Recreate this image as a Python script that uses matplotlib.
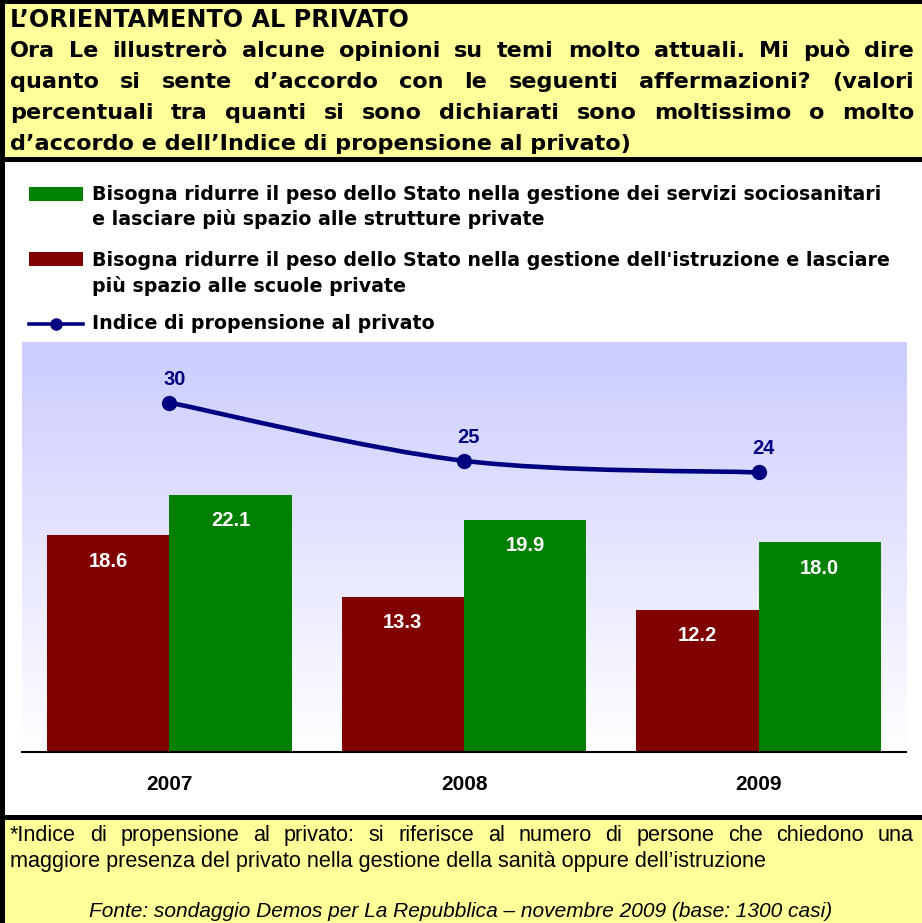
import numpy as np
import matplotlib
matplotlib.use("Agg")
import matplotlib.pyplot as plt
from matplotlib.patches import Rectangle, PathPatch
from matplotlib.lines import Line2D
from matplotlib.path import Path
from matplotlib.colors import LinearSegmentedColormap

# ---------------- data ----------------
years = ["2007", "2008", "2009"]
sanita = [22.1, 19.9, 18.0]        # green series
istruzione = [18.6, 13.3, 12.2]    # red series
indice = [30, 25, 24]              # line series

title_line = "L\u2019ORIENTAMENTO AL PRIVATO"
question_lines = [
    "Ora Le illustrerò alcune opinioni su temi molto attuali. Mi può dire",
    "quanto si sente d\u2019accordo con le seguenti affermazioni? (valori",
    "percentuali tra quanti si sono dichiarati sono moltissimo o molto",
    "d\u2019accordo e dell\u2019Indice di propensione al privato)",
]
legend_green = ["Bisogna ridurre il peso dello Stato nella gestione dei servizi sociosanitari",
                "e lasciare più spazio alle strutture private"]
legend_red = ["Bisogna ridurre il peso dello Stato nella gestione dell'istruzione e lasciare",
              "più spazio alle scuole private"]
legend_line = "Indice di propensione al privato"
note_lines = ["*Indice di propensione al privato: si riferisce al numero di persone che chiedono una",
              "maggiore presenza del privato nella gestione della sanità oppure dell\u2019istruzione"]
source = "Fonte: sondaggio Demos per La Repubblica \u2013 novembre 2009 (base: 1300 casi)"

GREEN = "#008000"
RED = "#800000"
NAVY = "#000080"
YELLOW = "#FFFF99"
WIDE = "DejaVu Sans"
ARIAL = "Liberation Sans"

W, H = 922, 923
plt.rcParams['font.family'] = [ARIAL, 'DejaVu Sans']
fig = plt.figure(figsize=(W / 100, H / 100), dpi=100, facecolor="black")
renderer = fig.canvas.get_renderer()


def fxy(px, py):
    return px / W, 1 - py / H


def rect(x0, y0, x1, y1, color, z=-5):
    fig.patches.append(Rectangle(fxy(x0, y1), (x1 - x0) / W, (y1 - y0) / H,
                                 transform=fig.transFigure, facecolor=color,
                                 edgecolor="none", zorder=z))


def measure(s, size, family, weight="normal", style="normal"):
    t = fig.text(0, 0, s, fontsize=size, family=family, fontweight=weight, style=style)
    w = t.get_window_extent(renderer).width
    t.remove()
    return w


def fit_size(s, size, width, family, weight="normal", style="normal"):
    for _ in range(2):
        size = size * width / measure(s, size, family, weight, style)
    return size


def line(x0, base, s, size, family=WIDE, weight="normal", style="normal",
         color="black", justify_to=None, ha="left"):
    kw = dict(fontsize=size, family=family, fontweight=weight, style=style,
              color=color, va="baseline")
    if justify_to is None:
        xf, yf = fxy(x0, base)
        fig.text(xf, yf, s, ha=ha, **kw)
        return
    words = s.split(" ")
    texts = [fig.text(0, 0, w, ha="left", **kw) for w in words]
    ww = [t.get_window_extent(renderer).width for t in texts]
    gap = (justify_to - x0 - sum(ww)) / (len(words) - 1)
    x = x0
    for t, wd in zip(texts, ww):
        t.set_position(fxy(x, base))
        x += wd + gap


rect(5, 4, W, 157, YELLOW)
rect(5, 162, W, 815, "white")
rect(5, 820, W, H, YELLOW)

# ---------------- header ----------------
ts = fit_size(title_line, 15, 400, WIDE, "bold")
line(10, 27, title_line, ts, weight="bold")
qs = fit_size(question_lines[3], 15, 622, WIDE, "bold")
for ln, b in zip(question_lines[:3], [57, 88, 119]):
    line(10, b, ln, qs, weight="bold", justify_to=914)
line(10, 150, question_lines[3], qs, weight="bold")

# ---------------- legend ----------------
ls = fit_size(legend_green[0], 13, 790, WIDE, "bold")
rect(29, 187, 83, 201, GREEN)
line(92, 200, legend_green[0], ls, weight="bold")
line(92, 225, legend_green[1], ls, weight="bold")
rect(29, 252, 83, 266, RED)
line(92, 266, legend_red[0], ls, weight="bold")
line(92, 292, legend_red[1], ls, weight="bold")
x0, y0 = fxy(29, 324)
x1, _ = fxy(83, 324)
fig.lines.append(Line2D([x0, x1], [y0, y0], transform=fig.transFigure, color=NAVY, lw=2.6))
xm, _ = fxy(56, 324)
fig.lines.append(Line2D([xm], [y0], transform=fig.transFigure, color=NAVY, marker="o",
                        markersize=8, lw=0))
line(92, 329, legend_line, ls, weight="bold")

# ---------------- chart ----------------
L, R, TOP, BOT = 22, 906, 342, 752
ax = fig.add_axes([L / W, 1 - BOT / H, (R - L) / W, (BOT - TOP) / H])
ymax = 35.2
cmap = LinearSegmentedColormap.from_list("g", ["#CCCCFF", "#FFFFFF"])
ax.imshow(np.linspace(0, 1, 256).reshape(-1, 1), cmap=cmap, extent=[-0.5, 2.5, 0, ymax],
          aspect="auto", origin="upper", zorder=0)
ax.set_xlim(-0.5, 2.5)
ax.set_ylim(0, ymax)
ax.set_facecolor("white")
for s in ["top", "right", "left"]:
    ax.spines[s].set_visible(False)
ax.spines["bottom"].set_linewidth(1.5)
ax.spines["bottom"].set_zorder(5)
ax.set_yticks([])
ax.set_xticks([])

x = np.arange(len(years))
bw = 0.415
b1 = ax.bar(x - bw / 2, istruzione, bw, color=RED, zorder=2)
b2 = ax.bar(x + bw / 2, sanita, bw, color=GREEN, zorder=2)
for bars, vals in [(b1, istruzione), (b2, sanita)]:
    for b, v in zip(bars, vals):
        ax.annotate(f"{v:.1f}", (b.get_x() + b.get_width() / 2, v), xytext=(0, -22.5),
                    textcoords="offset points", ha="center", va="baseline",
                    color="white", fontsize=14.5, fontweight="bold", zorder=4)

# smoothed line (Bezier through the data points)
pts = list(zip(x.astype(float), indice))
verts = [pts[0]]
codes = [Path.MOVETO]
n = len(pts)
for i in range(n - 1):
    p0 = np.array(pts[max(i - 1, 0)])
    p1 = np.array(pts[i])
    p2 = np.array(pts[i + 1])
    p3 = np.array(pts[min(i + 2, n - 1)])
    c1 = p1 + (p2 - p0) / 6
    c2 = p2 - (p3 - p1) / 6
    verts += [tuple(c1), tuple(c2), tuple(p2)]
    codes += [Path.CURVE4] * 3
ax.add_patch(PathPatch(Path(verts, codes), facecolor="none", edgecolor=NAVY, lw=3.3,
                       zorder=3, capstyle="round", joinstyle="round"))
ax.plot(x, indice, linestyle="none", marker="o", markersize=10, color=NAVY, zorder=4)
for xi, v in zip(x, indice):
    ax.annotate(f"{v}", (xi, v), xytext=(3.5, 13), textcoords="offset points",
                ha="center", va="baseline", color=NAVY, fontsize=14.5, fontweight="bold")

for xi, yr in zip(x, years):
    ax.annotate(yr, (xi, 0), xytext=(0, -27.5),
                textcoords="offset points", ha="center", va="baseline",
                fontsize=15, fontweight="bold", color="black", annotation_clip=False)

# ---------------- footer ----------------
fs = fit_size(note_lines[1], 15, 758, ARIAL)
line(10, 841, note_lines[0], fs, family=ARIAL, justify_to=914)
line(10, 867, note_lines[1], fs, family=ARIAL)
ss = fit_size(source, 14, 745, ARIAL, style="italic")
line(461, 917, source, ss, family=ARIAL, style="italic", ha="center")

fig.savefig("out.png", dpi=100, facecolor=fig.get_facecolor())
